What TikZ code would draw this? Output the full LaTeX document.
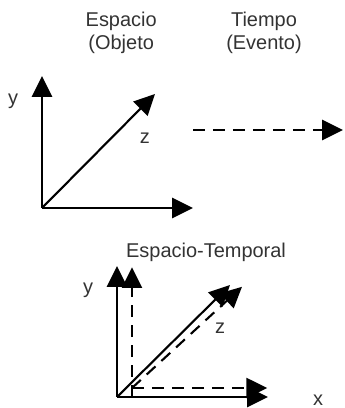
\documentclass[tikz,border=0pt]{standalone}
\usepackage{fontspec}
\setmainfont{Liberation Sans}
\usetikzlibrary{arrows.meta}
\definecolor{traza}{HTML}{000000}
\tikzset{
  eje/.style={draw=traza, line width=1.5pt, -{Triangle[length=.52cm,width=.5cm]}},
  ejetrazo/.style={eje, dash pattern=on 8.5pt off 5.7pt},
  rotulo/.style={font=\fontsize{14.2}{16.4}\selectfont, text=black!80, inner sep=1pt},
  titulo/.style={rotulo, align=center},
}

\begin{document}
\begin{tikzpicture}[x=1cm,y=1cm]
  \useasboundingbox (0,0) rectangle (8.6,10.2);

  % espacio y tiempo
  \node[titulo] (espacio) at (3.03,9.37) {Espacio\\(Objeto};
  \node[titulo] (tiempo) at (6.6,9.37) {Tiempo\\(Evento)};

  \coordinate (O1) at (1.05,5.0);
  \coordinate (Y1) at (1.05,8.3);
  \coordinate (X1) at (4.825,5.0);
  \coordinate (Z1) at (3.875,7.85);
  \draw[eje] (O1)--(Y1);
  \draw[eje] (O1)--(X1);
  \draw[eje] (O1)--(Z1);
  \node[rotulo] (ety1) at (0.33,7.67) {y};
  \node[rotulo] (etz1) at (3.62,6.75) {z};

  \coordinate (T0) at (4.825,6.95);
  \coordinate (T1) at (8.575,6.95);
  \draw[ejetrazo] (T0)--(T1);

  % espacio-temporal
  \node[rotulo] (esptemp) at (5.15,3.9) {Espacio-Temporal};

  \coordinate (O2) at (2.925,0.275);
  \coordinate (Y2) at (2.925,3.55);
  \coordinate (X2) at (6.7,0.275);
  \coordinate (Z2) at (5.75,3.075);
  \draw[eje] (O2)--(Y2);
  \draw[eje] (O2)--(X2);
  \draw[eje] (O2)--(Z2);

  \coordinate (B2) at (3.3,0.275);
  \coordinate (O3) at (3.3,0.5);
  \coordinate (Y3) at (3.3,3.52);
  \coordinate (X3) at (6.68,0.5);
  \coordinate (Z3) at (6.05,3.03);
  \draw[ejetrazo] (B2)--(Y3);
  \draw[ejetrazo] (O3)--(X3);
  \draw[ejetrazo] (O3)--(Z3);

  \node[rotulo] (ety2) at (2.2,2.95) {y};
  \node[rotulo] (etz2) at (5.5,2.0) {z};
  \node[rotulo] (etx2) at (7.95,0.2) {x};
\end{tikzpicture}
\end{document}
